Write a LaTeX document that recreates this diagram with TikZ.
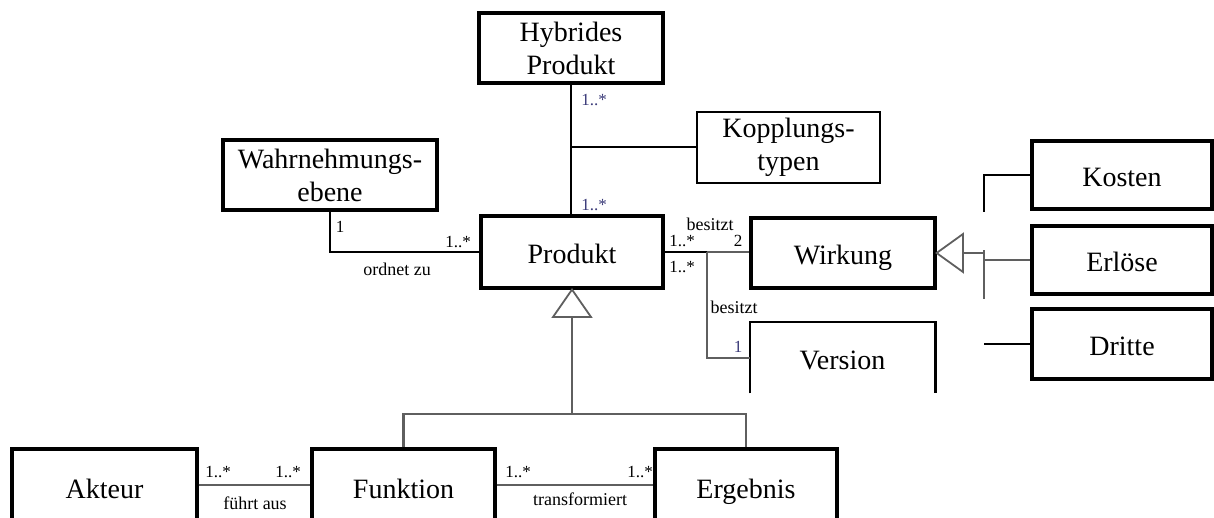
\documentclass[tikz,border=0pt]{standalone}
\usepackage{fontspec}
\setmainfont{Liberation Serif}
\definecolor{multblue}{RGB}{58,58,120}
\definecolor{linegray}{RGB}{95,95,95}
\begin{document}
\begin{tikzpicture}[x=0.5pt,y=-0.5pt,
  box/.style={draw, line width=1.6pt, inner sep=0pt, align=center,
    font=\fontsize{14}{16.5}\selectfont},
  thinbox/.style={box, line width=1pt},
  one/.style={text height=11.5pt, text depth=0pt},
  lbl/.style={inner sep=0pt, font=\fontsize{9}{10}\selectfont},
  mult/.style={lbl, font=\fontsize{8.5}{10}\selectfont},
  bluemult/.style={mult, text=multblue},
  conn/.style={line width=1pt},
  gconn/.style={line width=1pt, draw=linegray},
  fine/.style={line width=0.6pt, draw=linegray},
  gen/.style={line width=0.9pt, draw=linegray, fill=white, line join=miter}]
\useasboundingbox (0,0) rectangle (1214,518);
\clip (0,0) rectangle (1214,518);

% classes
\node[box, minimum width=92pt, minimum height=35pt] (hyb) at (571,48) {Hybrides\\Produkt};
\node[thinbox, minimum width=91.5pt, minimum height=35.5pt] (kopp) at (788.5,147.5) {Kopplungs-\\typen};
\node[box, minimum width=107pt, minimum height=35pt] (wahr) at (330,175) {Wahrnehmungs-\\ebene};
\node[box, one, minimum width=91pt, minimum height=36pt] (prod) at (572,252) {Produkt};
\node[box, one, minimum width=92pt, minimum height=35pt] (wirk) at (843,253) {Wirkung};
\node[one, inner sep=0pt, minimum width=92.5pt, minimum height=35.5pt,
  font=\fontsize{14}{16.5}\selectfont] (vers) at (842.5,357.5) {Version};
\draw[line width=1.1pt] (vers.south west) -- (vers.north west) -- (vers.north east) -- (vers.south east);
\node[box, one, minimum width=90pt, minimum height=34pt] (kost) at (1122,175) {Kosten};
\node[box, one, minimum width=90pt, minimum height=34pt] (erl) at (1122,260) {Erlöse};
\node[box, one, minimum width=90pt, minimum height=35pt] (drit) at (1122,344) {Dritte};
\node[box, one, minimum width=92.5pt, minimum height=38pt] (akt) at (104.5,487) {Akteur};
\node[box, one, minimum width=91.5pt, minimum height=38pt] (funk) at (403.5,487) {Funktion};
\node[box, one, minimum width=91pt, minimum height=38pt] (erg) at (746,487) {Ergebnis};

% Hybrides Produkt -- Produkt, with association class
\draw[conn, line width=1.3pt] (hyb.south) -- (hyb.south |- prod.north);
\draw[conn] (hyb.south |- kopp.west) -- (kopp.west);
\node[bluemult] (m1) at (594,100) {1..*};
\node[bluemult] (m2) at (594,205) {1..*};

% Wahrnehmungsebene -- Produkt
\draw[conn] (wahr.south) |- (prod.west);
\node[mult] (m3) at (340,227) {1};
\node[mult] (m4) at (458,242) {1..*};
\node[lbl] (l1) at (397,269) {ordnet zu};

% Produkt -- Wirkung / Version
\coordinate (j) at (707,252);
\draw[conn] (prod.east) -- (j);
\draw[gconn] (j) -- (j -| wirk.west);
\draw[gconn] (j) |- (vers.west);
\node[lbl] (l2) at (710,224) {besitzt};
\node[mult] (m5) at (682,241) {1..*};
\node[mult] (m6) at (738,241) {2};
\node[mult] (m7) at (682,267) {1..*};
\node[lbl] (l3) at (734,307) {besitzt};
\node[bluemult] (m8) at (738,347) {1};

% generalisation below Produkt
\coordinate (pbase) at (572,317);
\coordinate (bus) at (572,414);
\draw[gen] (prod.south) -- (553,317) -- (591,317) -- cycle;
\draw[gconn, line width=1.4pt] (pbase) -- (bus);
\draw[gconn, line width=1.3pt] (funk.north) |- (bus);
\draw[gconn, line width=1.3pt] (erg.north) |- (bus);

% Akteur -- Funktion -- Ergebnis
\draw[fine] ([yshift=1pt]akt.east) -- ([yshift=1pt]funk.west);
\draw[fine] ([yshift=1pt]funk.east) -- ([yshift=1pt]erg.west);
\node[mult] (m9) at (218,472) {1..*};
\node[mult] (m10) at (288,472) {1..*};
\node[lbl] (l4) at (255,503) {führt aus};
\node[mult] (m11) at (518,472) {1..*};
\node[mult] (m12) at (640,472) {1..*};
\node[lbl] (l5) at (580,499) {transformiert};

% generalisation right of Wirkung
\coordinate (wbase) at (963,253);
\coordinate (wbus) at (984,253);
\coordinate (wtop) at (984,250);
\coordinate (wbot) at (984,299);
\coordinate (kv) at (984,212);
\draw[gen] (wirk.east) -- (963,234) -- (963,272) -- cycle;
\draw[gconn] (wbase) -- (wbus);
\draw[gconn] (wtop) -- (wbot);
\draw[fine] (wbus |- erl.west) -- (erl.west);
\draw[conn] (kv) |- (kost.west);
\draw[conn] (wbus |- drit.west) -- (drit.west);
\end{tikzpicture}
\end{document}
